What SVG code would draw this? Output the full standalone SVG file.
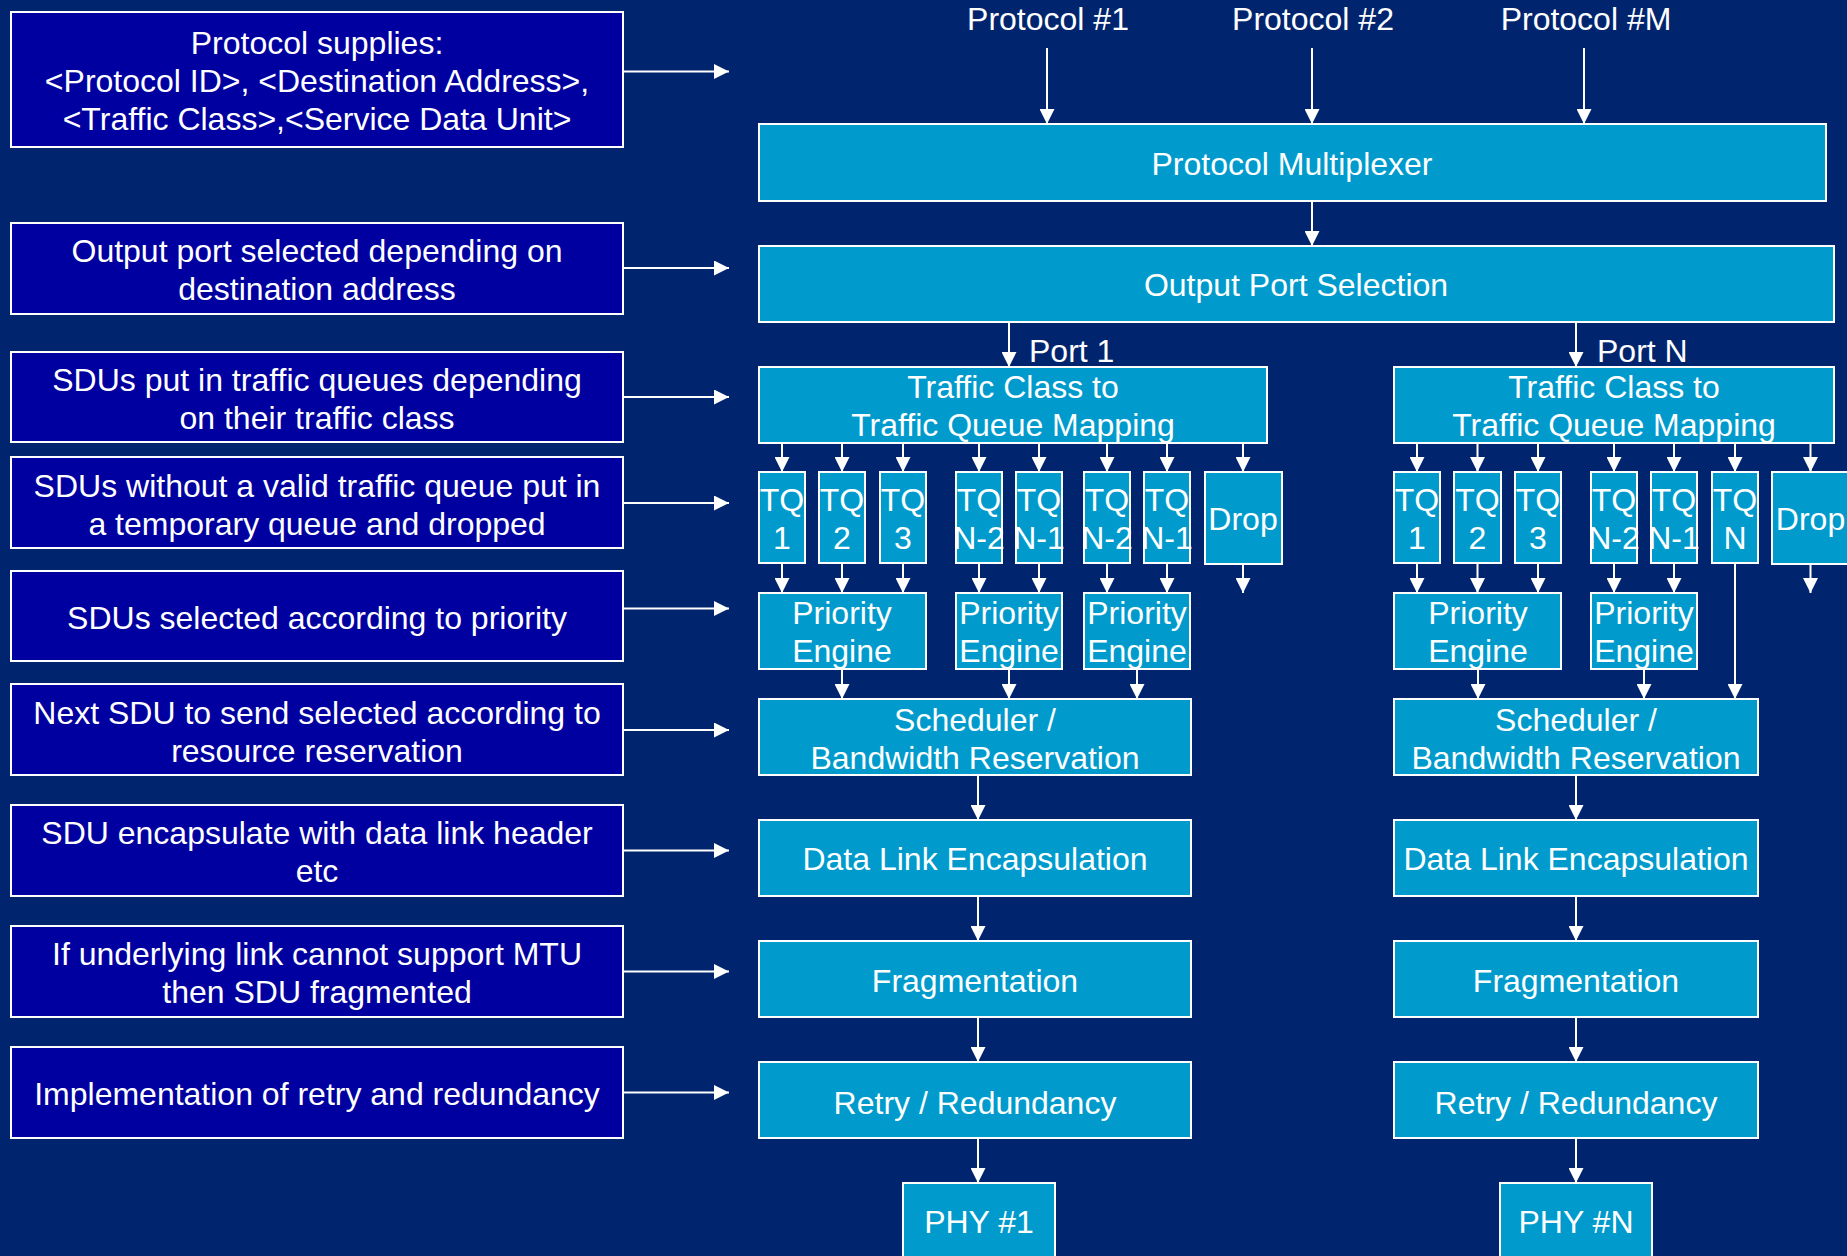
<svg xmlns="http://www.w3.org/2000/svg" width="1847" height="1256" viewBox="0 0 1847 1256">
  <defs>
    <marker id="arrow" markerUnits="userSpaceOnUse" markerWidth="15" markerHeight="15" refX="15" refY="7.5" orient="auto">
      <path d="M0,0 L15,7.5 L0,15 z" fill="#FFFFFF"/>
    </marker>
    <style>
      .note rect { fill: #0000A0; stroke: #FFFFFF; stroke-width: 2; }
      .blk rect { fill: #009BCC; stroke: #FFFFFF; stroke-width: 2; }
      text { font-family: "Liberation Sans", Arial, sans-serif; font-size: 32px; fill: #FFFFFF; text-anchor: middle; }
      .lbl { text-anchor: start; }
      #connectors line { stroke: #FFFFFF; stroke-width: 2; marker-end: url(#arrow); }
    </style>
  </defs>

  <rect x="0" y="0" width="1847" height="1256" fill="#00256E"/>

  <!-- Explanatory notes on the left -->
  <g id="note-supplies" class="note">
    <rect x="11" y="12" width="612" height="135"/>
    <text x="317" y="53.5">Protocol supplies:</text>
    <text x="317" y="92">&lt;Protocol ID&gt;, &lt;Destination Address&gt;,</text>
    <text x="317" y="130">&lt;Traffic Class&gt;,&lt;Service Data Unit&gt;</text>
  </g>
  <g id="note-port" class="note">
    <rect x="11" y="223" width="612" height="91"/>
    <text x="317" y="261.5">Output port selected depending on</text>
    <text x="317" y="299.5">destination address</text>
  </g>
  <g id="note-queues" class="note">
    <rect x="11" y="352" width="612" height="90"/>
    <text x="317" y="391">SDUs put in traffic queues depending</text>
    <text x="317" y="429">on their traffic class</text>
  </g>
  <g id="note-drop" class="note">
    <rect x="11" y="457" width="612" height="91"/>
    <text x="317" y="496.5">SDUs without a valid traffic queue put in</text>
    <text x="317" y="534.5">a temporary queue and dropped</text>
  </g>
  <g id="note-priority" class="note">
    <rect x="11" y="571" width="612" height="90"/>
    <text x="317" y="628.5">SDUs selected according to priority</text>
  </g>
  <g id="note-scheduler" class="note">
    <rect x="11" y="684" width="612" height="91"/>
    <text x="317" y="723.5">Next SDU to send selected according to</text>
    <text x="317" y="761.5">resource reservation</text>
  </g>
  <g id="note-encap" class="note">
    <rect x="11" y="805" width="612" height="91"/>
    <text x="317" y="843.5">SDU encapsulate with data link header</text>
    <text x="317" y="881.5">etc</text>
  </g>
  <g id="note-frag" class="note">
    <rect x="11" y="926" width="612" height="91"/>
    <text x="317" y="965">If underlying link cannot support MTU</text>
    <text x="317" y="1003">then SDU fragmented</text>
  </g>
  <g id="note-retry" class="note">
    <rect x="11" y="1047" width="612" height="91"/>
    <text x="317" y="1104.5">Implementation of retry and redundancy</text>
  </g>

  <!-- Protocol inputs -->
  <g id="proto-1"><text x="1048" y="30">Protocol #1</text></g>
  <g id="proto-2"><text x="1313" y="30">Protocol #2</text></g>
  <g id="proto-m"><text x="1586" y="30">Protocol #M</text></g>

  <!-- Shared stages -->
  <g id="mux" class="blk">
    <rect x="759" y="124" width="1067" height="77"/>
    <text x="1292" y="175">Protocol Multiplexer</text>
  </g>
  <g id="port-select" class="blk">
    <rect x="759" y="246" width="1075" height="76"/>
    <text x="1296" y="296">Output Port Selection</text>
  </g>

  <!-- Port 1 -->
  <g id="port1-label"><text class="lbl" x="1029" y="362">Port 1</text></g>
  <g id="p1-map" class="blk">
    <rect x="759" y="367" width="508" height="76"/>
    <text x="1013" y="398">Traffic Class to</text>
    <text x="1013" y="435.5">Traffic Queue Mapping</text>
  </g>
  <g id="p1-tq1" class="blk"><rect x="759" y="472" width="46" height="91"/><text x="782" y="511">TQ</text><text x="782" y="549">1</text></g>
  <g id="p1-tq2" class="blk"><rect x="819" y="472" width="46" height="91"/><text x="842" y="511">TQ</text><text x="842" y="549">2</text></g>
  <g id="p1-tq3" class="blk"><rect x="880" y="472" width="46" height="91"/><text x="903" y="511">TQ</text><text x="903" y="549">3</text></g>
  <g id="p1-tqn2a" class="blk"><rect x="956" y="472" width="46" height="91"/><text x="979" y="511">TQ</text><text x="979" y="549">N-2</text></g>
  <g id="p1-tqn1a" class="blk"><rect x="1016" y="472" width="46" height="91"/><text x="1039" y="511">TQ</text><text x="1039" y="549">N-1</text></g>
  <g id="p1-tqn2b" class="blk"><rect x="1084" y="472" width="46" height="91"/><text x="1107" y="511">TQ</text><text x="1107" y="549">N-2</text></g>
  <g id="p1-tqn1b" class="blk"><rect x="1144" y="472" width="46" height="91"/><text x="1167" y="511">TQ</text><text x="1167" y="549">N-1</text></g>
  <g id="p1-drop" class="blk"><rect x="1205" y="472" width="77" height="92"/><text x="1243" y="530">Drop</text></g>
  <g id="p1-pe1" class="blk"><rect x="759" y="593" width="167" height="76"/><text x="842" y="624">Priority</text><text x="842" y="662">Engine</text></g>
  <g id="p1-pe2" class="blk"><rect x="956" y="593" width="106" height="76"/><text x="1009" y="624">Priority</text><text x="1009" y="662">Engine</text></g>
  <g id="p1-pe3" class="blk"><rect x="1084" y="593" width="106" height="76"/><text x="1137" y="624">Priority</text><text x="1137" y="662">Engine</text></g>
  <g id="p1-sched" class="blk">
    <rect x="759" y="699" width="432" height="76"/>
    <text x="975" y="730.5">Scheduler /</text>
    <text x="975" y="768.5">Bandwidth Reservation</text>
  </g>
  <g id="p1-encap" class="blk"><rect x="759" y="820" width="432" height="76"/><text x="975" y="870">Data Link Encapsulation</text></g>
  <g id="p1-frag" class="blk"><rect x="759" y="941" width="432" height="76"/><text x="975" y="992">Fragmentation</text></g>
  <g id="p1-retry" class="blk"><rect x="759" y="1062" width="432" height="76"/><text x="975" y="1113.5">Retry / Redundancy</text></g>
  <g id="p1-phy" class="blk"><rect x="903" y="1183" width="152" height="100"/><text x="979" y="1233">PHY #1</text></g>

  <!-- Port N -->
  <g id="portn-label"><text class="lbl" x="1597" y="362">Port N</text></g>
  <g id="pn-map" class="blk">
    <rect x="1394" y="367" width="440" height="76"/>
    <text x="1614" y="398">Traffic Class to</text>
    <text x="1614" y="435.5">Traffic Queue Mapping</text>
  </g>
  <g id="pn-tq1" class="blk"><rect x="1394" y="472" width="46" height="91"/><text x="1417" y="511">TQ</text><text x="1417" y="549">1</text></g>
  <g id="pn-tq2" class="blk"><rect x="1454" y="472" width="47" height="91"/><text x="1477.5" y="511">TQ</text><text x="1477.5" y="549">2</text></g>
  <g id="pn-tq3" class="blk"><rect x="1515" y="472" width="46" height="91"/><text x="1538" y="511">TQ</text><text x="1538" y="549">3</text></g>
  <g id="pn-tqn2" class="blk"><rect x="1591" y="472" width="46" height="91"/><text x="1614" y="511">TQ</text><text x="1614" y="549">N-2</text></g>
  <g id="pn-tqn1" class="blk"><rect x="1651" y="472" width="46" height="91"/><text x="1674" y="511">TQ</text><text x="1674" y="549">N-1</text></g>
  <g id="pn-tqn" class="blk"><rect x="1712" y="472" width="46" height="91"/><text x="1735" y="511">TQ</text><text x="1735" y="549">N</text></g>
  <g id="pn-drop" class="blk"><rect x="1772" y="472" width="77" height="92"/><text x="1810.5" y="530">Drop</text></g>
  <g id="pn-pe1" class="blk"><rect x="1394" y="593" width="167" height="76"/><text x="1478" y="624">Priority</text><text x="1478" y="662">Engine</text></g>
  <g id="pn-pe2" class="blk"><rect x="1591" y="593" width="106" height="76"/><text x="1644" y="624">Priority</text><text x="1644" y="662">Engine</text></g>
  <g id="pn-sched" class="blk">
    <rect x="1394" y="699" width="364" height="76"/>
    <text x="1576" y="730.5">Scheduler /</text>
    <text x="1576" y="768.5">Bandwidth Reservation</text>
  </g>
  <g id="pn-encap" class="blk"><rect x="1394" y="820" width="364" height="76"/><text x="1576" y="870">Data Link Encapsulation</text></g>
  <g id="pn-frag" class="blk"><rect x="1394" y="941" width="364" height="76"/><text x="1576" y="992">Fragmentation</text></g>
  <g id="pn-retry" class="blk"><rect x="1394" y="1062" width="364" height="76"/><text x="1576" y="1113.5">Retry / Redundancy</text></g>
  <g id="pn-phy" class="blk"><rect x="1500" y="1183" width="152" height="100"/><text x="1576" y="1233">PHY #N</text></g>

  <g id="connectors">
    <!-- notes pointing at the stack -->
    <line x1="623" y1="71.5" x2="729" y2="71.5"/>
    <line x1="623" y1="268" x2="729" y2="268"/>
    <line x1="623" y1="397" x2="729" y2="397"/>
    <line x1="623" y1="503" x2="729" y2="503"/>
    <line x1="623" y1="608.5" x2="729" y2="608.5"/>
    <line x1="623" y1="730" x2="729" y2="730"/>
    <line x1="623" y1="850.5" x2="729" y2="850.5"/>
    <line x1="623" y1="971.5" x2="729" y2="971.5"/>
    <line x1="623" y1="1092.5" x2="729" y2="1092.5"/>

    <!-- protocols into multiplexer -->
    <line x1="1047" y1="48" x2="1047" y2="124"/>
    <line x1="1312" y1="48" x2="1312" y2="124"/>
    <line x1="1584" y1="48" x2="1584" y2="124"/>
    <line x1="1312" y1="201" x2="1312" y2="246"/>

    <!-- port branches -->
    <line x1="1009" y1="322" x2="1009" y2="367"/>
    <line x1="1576" y1="322" x2="1576" y2="367"/>

    <!-- port 1: mapping to queues -->
    <line x1="782" y1="443" x2="782" y2="472"/>
    <line x1="842" y1="443" x2="842" y2="472"/>
    <line x1="903" y1="443" x2="903" y2="472"/>
    <line x1="979" y1="443" x2="979" y2="472"/>
    <line x1="1039" y1="443" x2="1039" y2="472"/>
    <line x1="1107" y1="443" x2="1107" y2="472"/>
    <line x1="1167" y1="443" x2="1167" y2="472"/>
    <line x1="1243" y1="443" x2="1243" y2="472"/>
    <!-- port 1: queues to priority engines -->
    <line x1="782" y1="563" x2="782" y2="593"/>
    <line x1="842" y1="563" x2="842" y2="593"/>
    <line x1="903" y1="563" x2="903" y2="593"/>
    <line x1="979" y1="563" x2="979" y2="593"/>
    <line x1="1039" y1="563" x2="1039" y2="593"/>
    <line x1="1107" y1="563" x2="1107" y2="593"/>
    <line x1="1167" y1="563" x2="1167" y2="593"/>
    <line x1="1243" y1="564" x2="1243" y2="593"/>
    <!-- port 1: engines to scheduler and down the stack -->
    <line x1="842" y1="669" x2="842" y2="699"/>
    <line x1="1009" y1="669" x2="1009" y2="699"/>
    <line x1="1137" y1="669" x2="1137" y2="699"/>
    <line x1="978" y1="775" x2="978" y2="820"/>
    <line x1="978" y1="896" x2="978" y2="941"/>
    <line x1="978" y1="1017" x2="978" y2="1062"/>
    <line x1="978" y1="1138" x2="978" y2="1183"/>

    <!-- port N: mapping to queues -->
    <line x1="1417" y1="443" x2="1417" y2="472"/>
    <line x1="1477.5" y1="443" x2="1477.5" y2="472"/>
    <line x1="1538" y1="443" x2="1538" y2="472"/>
    <line x1="1614" y1="443" x2="1614" y2="472"/>
    <line x1="1674" y1="443" x2="1674" y2="472"/>
    <line x1="1735" y1="443" x2="1735" y2="472"/>
    <line x1="1810.5" y1="443" x2="1810.5" y2="472"/>
    <!-- port N: queues to priority engines -->
    <line x1="1417" y1="563" x2="1417" y2="593"/>
    <line x1="1477.5" y1="563" x2="1477.5" y2="593"/>
    <line x1="1538" y1="563" x2="1538" y2="593"/>
    <line x1="1614" y1="563" x2="1614" y2="593"/>
    <line x1="1674" y1="563" x2="1674" y2="593"/>
    <line x1="1735" y1="563" x2="1735" y2="699"/>
    <line x1="1810.5" y1="564" x2="1810.5" y2="593"/>
    <!-- port N: engines to scheduler and down the stack -->
    <line x1="1478" y1="669" x2="1478" y2="699"/>
    <line x1="1644" y1="669" x2="1644" y2="699"/>
    <line x1="1576" y1="775" x2="1576" y2="820"/>
    <line x1="1576" y1="896" x2="1576" y2="941"/>
    <line x1="1576" y1="1017" x2="1576" y2="1062"/>
    <line x1="1576" y1="1138" x2="1576" y2="1183"/>
  </g>
</svg>
